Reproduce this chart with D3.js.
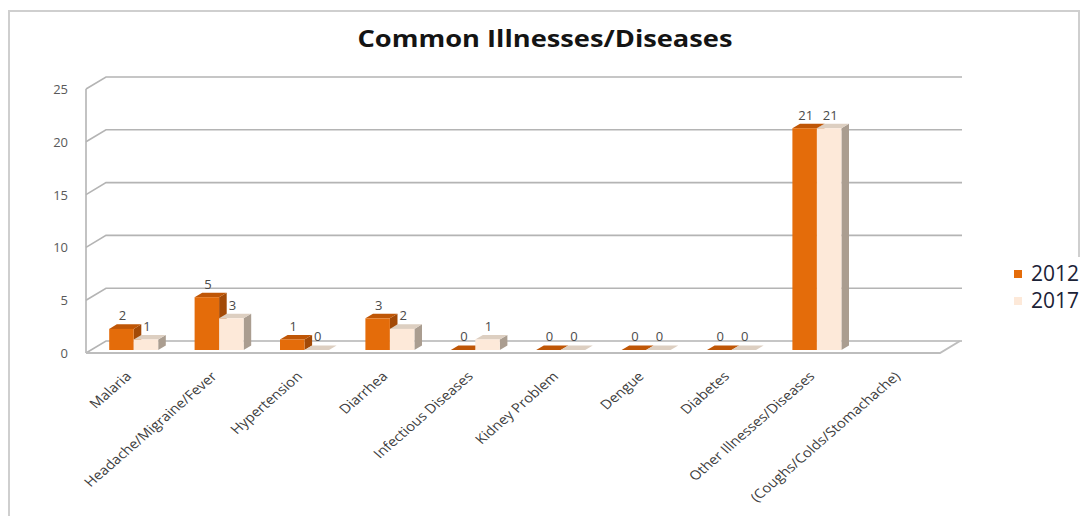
<!DOCTYPE html>
<html>
<head>
<meta charset="utf-8">
<script src="https://cdn.jsdelivr.net/npm/d3@7"></script>
<style>
  html, body { margin: 0; padding: 0; background: #ffffff; }
  svg { display: block; }
</style>
</head>
<body>
<svg id="chart" width="1080" height="516"></svg>
<script>
// Survey counts of common illnesses, two survey years
const categories = [
  "Malaria", "Headache/Migraine/Fever", "Hypertension", "Diarrhea",
  "Infectious Diseases", "Kidney Problem", "Dengue", "Diabetes",
  "Other Illnesses/Diseases", "(Coughs/Colds/Stomachache)"
];
const values2012 = [2, 5, 1, 3, 0, 0, 0, 0, 21, null];
const values2017 = [1, 3, 0, 2, 1, 0, 0, 0, 21, null];
const seriesNames = ["2012", "2017"];
const yTicks = [0, 5, 10, 15, 20, 25];
const chartTitle = "Common Illnesses/Diseases";

const svg = d3.select("#chart");
const W = 1080, H = 516;

// 3D box geometry: front plane of the plot and the depth offset of the back wall
const frontLeft = 86, frontRight = 940;
const DX = 20, DY = -12;
const barF0 = 0.25, barF1 = 0.63;   // bar front / back, as fractions of box depth

const x = d3.scaleBand().domain(categories).range([frontLeft, frontRight]).padding(0);
const y = d3.scaleLinear().domain([0, 25]).range([353, 89]);
const barW = 24.5;
const xs = d3.scaleBand().domain(seriesNames)
  .range([(x.bandwidth() - 2 * barW) / 2, (x.bandwidth() + 2 * barW) / 2]).padding(0);

const grid = "#b4b4b4";
const textStretch = 1.15;

// outer frame
svg.append("path")
  .attr("d", `M9,${H} L9,11 L1079,11 L1079,257`)
  .attr("fill", "none").attr("stroke", "#cfcfcf").attr("stroke-width", 2);

// title
svg.append("text")
  .attr("x", 545).attr("y", 47)
  .attr("text-anchor", "middle")
  .attr("font-family", "'Open Sans', sans-serif")
  .attr("font-weight", 700).attr("font-size", 24)
  .attr("fill", "#141414")
  .attr("textLength", 375).attr("lengthAdjust", "spacingAndGlyphs")
  .text(chartTitle);

// walls: back gridlines and side-wall diagonals
const gWalls = svg.append("g").attr("fill", "none").attr("stroke", grid).attr("stroke-width", 1.6);
yTicks.forEach(t => {
  const yf = y(t);
  gWalls.append("path")
    .attr("d", `M${frontLeft},${yf} L${frontLeft + DX},${yf + DY} L${frontRight + DX + 2},${yf + DY}`);
});
gWalls.append("line")
  .attr("x1", frontLeft).attr("x2", frontLeft)
  .attr("y1", y(25)).attr("y2", y(0));
// floor front and right edges
gWalls.append("path")
  .attr("d", `M${frontLeft},${y(0)} L${frontRight},${y(0)} L${frontRight + DX},${y(0) + DY}`)
  .attr("stroke", "#bdbdbd").attr("stroke-width", 2);

// y axis labels
svg.append("g").selectAll("text").data(yTicks).join("text")
  .attr("x", 68).attr("y", d => y(d)).attr("dy", "0.38em")
  .attr("text-anchor", "end")
  .attr("font-family", "'Open Sans', sans-serif").attr("font-size", 13)
  .attr("fill", "#595959")
  .text(d => d);

// bars
const palette = {
  "2012": { front: "#e46c0a", top: "#bf5606", side: "#a34a07" },
  "2017": { front: "#fde9d9", top: "#ddcfc1", side: "#aa9d90" }
};
const series = [
  { name: "2012", values: values2012 },
  { name: "2017", values: values2017 }
];
const ox0 = DX * barF0, oy0 = DY * barF0;
const bdx = DX * (barF1 - barF0), bdy = DY * (barF1 - barF0);

const bars = [];
categories.forEach((c, i) => {
  series.forEach(s => {
    const v = s.values[i];
    if (v === null || v === undefined) return;
    bars.push({ cat: c, name: s.name, value: v });
  });
});

const gBars = svg.append("g");
bars.forEach(b => {
  const c = palette[b.name];
  const xl = x(b.cat) + xs(b.name) + ox0;
  const xr = xl + xs.bandwidth();
  const yb = y(0) + oy0;
  const yt = y(b.value) + oy0;
  const g = gBars.append("g");
  // side
  g.append("path")
    .attr("d", `M${xr},${yb} L${xr + bdx},${yb + bdy} L${xr + bdx},${yt + bdy} L${xr},${yt} Z`)
    .attr("fill", c.side);
  // top
  g.append("path")
    .attr("d", `M${xl},${yt} L${xl + bdx},${yt + bdy} L${xr + bdx},${yt + bdy} L${xr},${yt} Z`)
    .attr("fill", c.top);
  // front
  if (b.value > 0) {
    g.append("rect")
      .attr("x", xl).attr("y", yt)
      .attr("width", xr - xl).attr("height", yb - yt)
      .attr("fill", c.front);
  }
  // value label
  svg.append("text")
    .attr("x", (xl + xr) / 2 + 1).attr("y", yt + bdy - 4)
    .attr("text-anchor", "middle")
    .attr("font-family", "'Open Sans', sans-serif").attr("font-size", 13)
    .attr("fill", "#4a4a4a")
    .text(b.value);
});

// category labels, slanted
svg.append("g").selectAll("text").data(categories).join("text")
  .attr("transform", d => `translate(${x(d) + x.bandwidth() / 2},${374}) scale(${textStretch},1) rotate(-45)`)
  .attr("text-anchor", "end")
  .attr("dy", "0.35em")
  .attr("font-family", "'Open Sans', sans-serif").attr("font-size", 13)
  .attr("fill", "#404040")
  .text(d => d);

// legend
const legend = svg.append("g");
[["2012", 281, 270], ["2017", 308, 297]].forEach(([name, base, my]) => {
  legend.append("rect")
    .attr("x", 1014).attr("y", my).attr("width", 8).attr("height", 8)
    .attr("fill", palette[name].front);
  legend.append("text")
    .attr("x", 1031).attr("y", base)
    .attr("font-family", "'Open Sans', sans-serif").attr("font-size", 21)
    .attr("fill", "#1b2236")
    .text(name);
});
</script>
</body>
</html>
